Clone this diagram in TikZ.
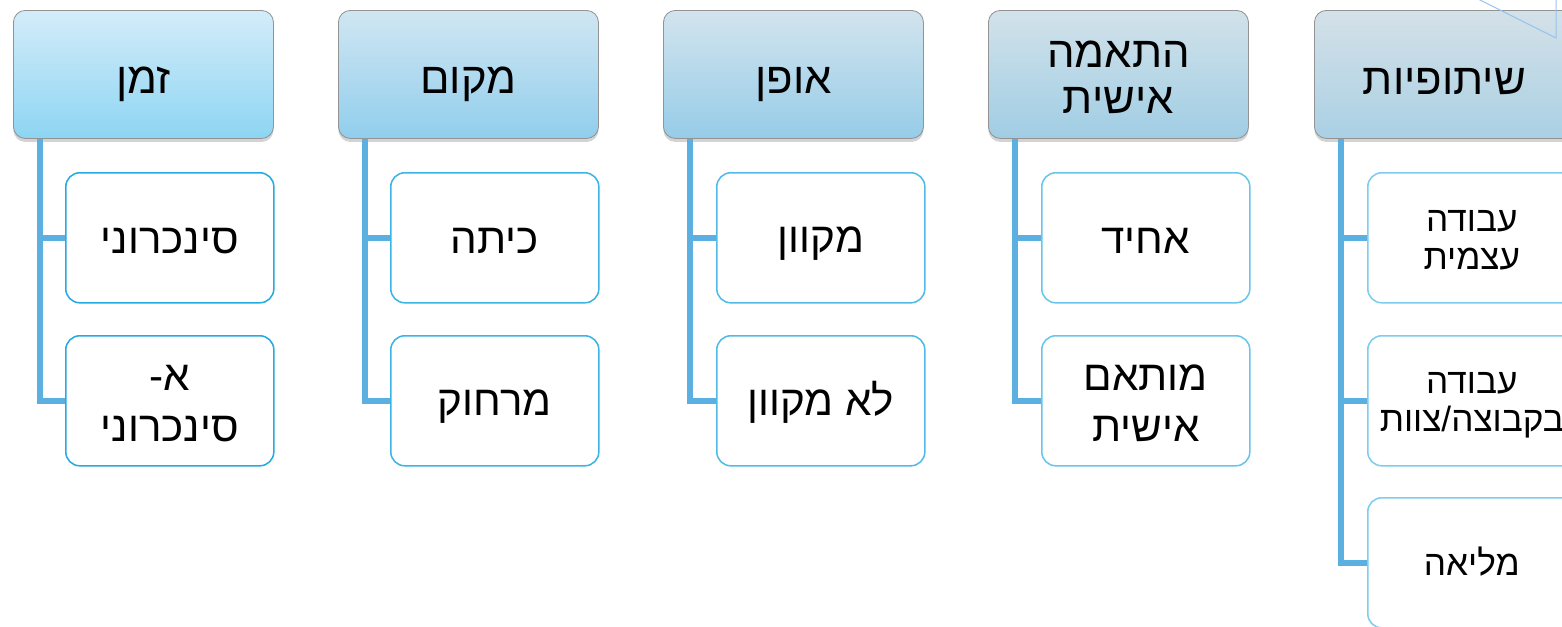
\documentclass[tikz,border=0pt]{standalone}
\usepackage{fontspec}
\newfontfamily\hebfont[Script=Hebrew]{Liberation Sans}
\TeXXeTstate=1
\usetikzlibrary{shadows}
\newcommand{\hebline}[1]{\rule[-0.15em]{0pt}{1.03em}\beginR #1\endR}
\newcommand{\hebtall}[1]{\rule[-0.15em]{0pt}{1.22em}\beginR #1\endR}

\definecolor{topA}{RGB}{212,236,249}\definecolor{botA}{RGB}{141,213,243}
\definecolor{topB}{RGB}{208,230,242}\definecolor{botB}{RGB}{145,206,237}
\definecolor{topC}{RGB}{210,228,238}\definecolor{botC}{RGB}{150,204,232}
\definecolor{topD}{RGB}{210,226,234}\definecolor{botD}{RGB}{160,205,228}
\definecolor{topE}{RGB}{212,225,232}\definecolor{botE}{RGB}{170,208,228}
\definecolor{rimA}{RGB}{38,170,226}\definecolor{rimB}{RGB}{60,180,228}
\definecolor{rimC}{RGB}{80,188,230}\definecolor{rimD}{RGB}{105,198,234}
\definecolor{rimE}{RGB}{125,205,238}
\definecolor{stem}{RGB}{92,175,225}
\definecolor{stray}{RGB}{150,195,240}

\tikzset{
	header/.style={draw=gray!85, line width=0.6pt, rounded corners=0.3cm,
		minimum width=6.5cm, minimum height=3.2cm, anchor=north west,
		align=center, font=\hebfont\fontsize{31}{33}\selectfont,
		drop shadow={opacity=0.35, shadow xshift=0pt, shadow yshift=-2.5pt}},
	leaf/.style={draw, fill=white, line width=1.1pt, rounded corners=0.35cm,
		minimum width=5.2cm, minimum height=3.25cm, anchor=north west,
		align=center, font=\hebfont\fontsize{30}{36}\selectfont},
	smallleaf/.style={leaf, font=\hebfont\fontsize{25}{27}\selectfont},
	stemline/.style={draw=stem, line width=4.3pt}
}

\begin{document}
\begin{tikzpicture}[x=0.025cm, y=-0.025cm]
	\clip (0,0) rectangle (1562,626);

	% headers
	\node[header, top color=topA, bottom color=botA] (zman)   at (13,10)   {\hebtall{זמן}};
	\node[header, top color=topB, bottom color=botB] (makom)  at (338,10)  {\hebtall{מקום}};
	\node[header, top color=topC, bottom color=botC] (ofen)   at (663,10)  {\hebtall{אופן}};
	\node[header, top color=topD, bottom color=botD] (hatama) at (988,10)  {\hebline{התאמה}\\\hebline{אישית}};
	\node[header, top color=topE, bottom color=botE] (shituf) at (1314,10) {\hebtall{שיתופיות}};

	% leaves
	\node[leaf, draw=rimA] (sync)    at (65,172)  {\hebline{סינכרוני}};
	\node[leaf, draw=rimA] (async)   at (65,335)  {\hebline{א-}\\\hebline{סינכרוני}};
	\node[leaf, draw=rimB] (kita)    at (390,172) {\hebline{כיתה}};
	\node[leaf, draw=rimB] (merhok)  at (390,335) {\hebline{מרחוק}};
	\node[leaf, draw=rimC] (mekuvan) at (716,172) {\hebline{מקוון}};
	\node[leaf, draw=rimC] (lomek)   at (716,335) {\hebline{לא מקוון}};
	\node[leaf, draw=rimD] (ahid)    at (1041,172) {\hebline{אחיד}};
	\node[leaf, draw=rimD] (mutam)   at (1041,335) {\hebline{מותאם}\\\hebline{אישית}};
	\node[smallleaf, draw=rimE] (atzmit) at (1367,172) {\hebline{עבודה}\\\hebline{עצמית}};
	\node[smallleaf, draw=rimE] (kvutza) at (1367,335) {\hebline{עבודה}\\\hebline{בקבוצה/צוות}};
	\node[smallleaf, draw=rimE] (mlea)   at (1367,497) {\hebline{מליאה}};

	% stems
	\draw[stemline] ([xshift=0.675cm]zman.south west) |- (sync.west);
	\draw[stemline] ([xshift=0.675cm]zman.south west) |- (async.west);
	\draw[stemline] ([xshift=0.675cm]makom.south west) |- (kita.west);
	\draw[stemline] ([xshift=0.675cm]makom.south west) |- (merhok.west);
	\draw[stemline] ([xshift=0.675cm]ofen.south west) |- (mekuvan.west);
	\draw[stemline] ([xshift=0.675cm]ofen.south west) |- (lomek.west);
	\draw[stemline] ([xshift=0.675cm]hatama.south west) |- (ahid.west);
	\draw[stemline] ([xshift=0.675cm]hatama.south west) |- (mutam.west);
	\draw[stemline] ([xshift=0.675cm]shituf.south west) |- (atzmit.west);
	\draw[stemline] ([xshift=0.675cm]shituf.south west) |- (kvutza.west);
	\draw[stemline] ([xshift=0.675cm]shituf.south west) |- (mlea.west);

	\draw[stray, line width=0.7pt] (1470,-5) -- (1556,38) -- (1556,-5);
\end{tikzpicture}
\end{document}
